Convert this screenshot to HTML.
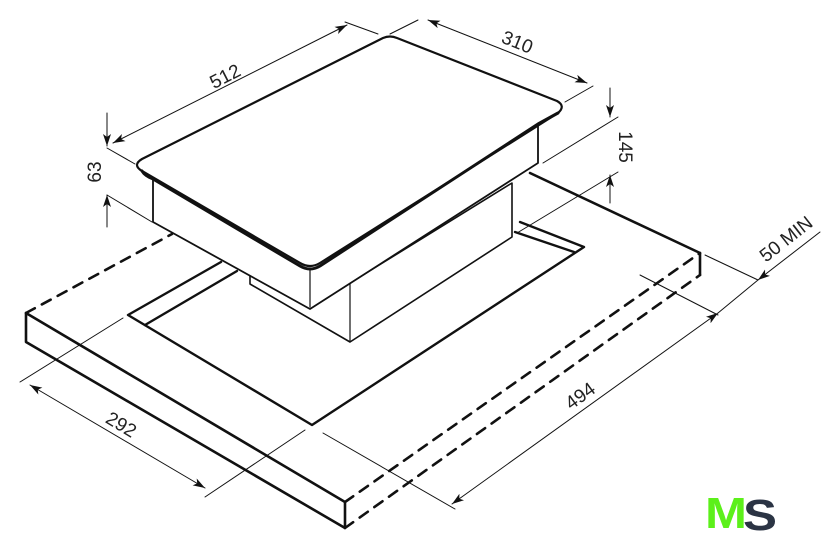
<!DOCTYPE html>
<html><head><meta charset="utf-8"><style>
html,body{margin:0;padding:0;background:#fff;}
svg{display:block;}
text{font-family:"Liberation Sans",sans-serif;font-size:19px;fill:#222;}
</style></head><body>
<svg width="840" height="551" viewBox="0 0 840 551" xmlns="http://www.w3.org/2000/svg">
<defs>
<marker id="a" viewBox="0 0 12 8" refX="12" refY="4" markerWidth="12" markerHeight="8" orient="auto-start-reverse" markerUnits="userSpaceOnUse">
<path d="M0,0 L12,4 L0,8 L3,4 Z" fill="#111"/></marker>
</defs>
<g fill="none" stroke="#111" stroke-linecap="round" stroke-linejoin="round">
<!-- worktop -->
<g stroke-width="2.6">
<path d="M26,313 L26,342 L345,528 L345,502 L26,313"/>
<path d="M530,173 L700,253 L700,275"/>
<path d="M26,313 L172,234" stroke-dasharray="10,8"/>
<path d="M345,502 L700,253" stroke-dasharray="10,8"/>
<path d="M345,528 L700,275" stroke-dasharray="10,8"/>
</g>
<!-- cutout -->
<g stroke-width="2.4">
<path d="M221,262 L128,315 L312,425 L584,247 L520,222"/>
<path d="M237,271 L145,325"/>
<path d="M515,232 L574,252"/>
</g>
<!-- lower box -->
<g stroke-width="1.6" fill="#fff">
<path d="M250,270 L250,284 L350,342 L512,237 L512,183 L350,283 Z"/>
<path d="M350,283 L350,342" stroke-width="1.2"/>
</g>
<!-- upper box -->
<g stroke-width="1.8" fill="#fff">
<path d="M153,176 L153,222 L310,309 L538,163 L538,120 L310,265 Z"/>
<path d="M310,268 L310,307" stroke-width="1.2"/>
</g>
<!-- glass -->
<path d="M383,38 Q390,35 397,38 L557,101 Q566,106 558,113 L320,263 Q310,269 300,263 L142,171 Q132,165 142,159 Z" fill="#fff" stroke-width="2.2"/>
<path d="M142,171 Q145,176 153,179 L300,266 Q310,272 320,266 L538,124 L558,113" stroke-width="3"/>
<!-- dimension lines -->
<g stroke-width="1">
<path d="M107,148 L135,164"/><path d="M345,22 L378,34"/>
<path d="M113,143 L347,25" marker-start="url(#a)" marker-end="url(#a)"/>
<path d="M390,34 L418,20"/><path d="M565,102 L593,86"/>
<path d="M428,20 L587,83" marker-start="url(#a)" marker-end="url(#a)"/>
<path d="M107,195 L152,222"/>
<path d="M107,113 L107,146" marker-end="url(#a)"/>
<path d="M107,227 L107,195" marker-end="url(#a)"/>
<path d="M543,163 L618,117"/><path d="M517,233 L618,172"/>
<path d="M610,88 L610,117" marker-end="url(#a)"/>
<path d="M610,203 L610,175" marker-end="url(#a)"/>
<path d="M705,255 L758,280"/><path d="M640,275 L718,315"/>
<path d="M820,232 L758,280" marker-end="url(#a)"/>
<path d="M452,504 L718,313" marker-start="url(#a)" marker-end="url(#a)"/>
<path d="M718,313 L758,280"/>
<path d="M323,433 L455,509"/>
<path d="M20,382 L123,318"/><path d="M205,497 L305,430"/>
<path d="M30,385 L205,488" marker-start="url(#a)" marker-end="url(#a)"/>
</g>
</g>
<text transform="translate(228,82) rotate(-27)" text-anchor="middle">512</text>
<text transform="translate(515,48) rotate(22)" text-anchor="middle">310</text>
<text transform="translate(101,172) rotate(-90)" text-anchor="middle">63</text>
<text transform="translate(619,147) rotate(90)" text-anchor="middle">145</text>
<text transform="translate(790,244) rotate(-38)" text-anchor="middle">50 MIN</text>
<text transform="translate(584,401) rotate(-36)" text-anchor="middle">494</text>
<text transform="translate(118,430) rotate(31)" text-anchor="middle">292</text>
<text x="705" y="528" style="font-size:44px;font-weight:bold;fill:#5cf01a" textLength="42" lengthAdjust="spacingAndGlyphs">M</text>
<text x="743" y="530" style="font-size:44px;font-weight:bold;fill:#2b3444" textLength="34" lengthAdjust="spacingAndGlyphs">S</text>
</svg>
</body></html>
